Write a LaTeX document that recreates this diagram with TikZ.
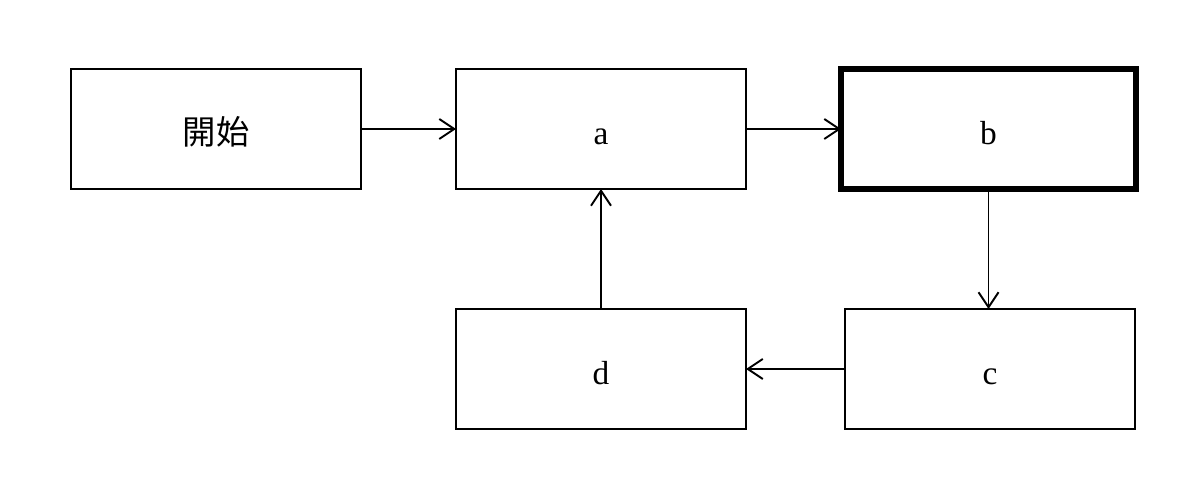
\documentclass[tikz,border=0pt]{standalone}
\usepackage{fontspec}
\setmainfont{Liberation Serif}
\newfontfamily\cjk{Noto Sans CJK TC}
\usetikzlibrary{positioning,arrows.meta}

\tikzstyle{box} = [rectangle, draw, line width=1.1pt, minimum width=5.8cm, minimum height=2.4cm, inner sep=0pt, outer sep=0pt, text height=18pt, text depth=0pt, font=\fontsize{19}{23}\selectfont]
\tikzstyle{flow} = [-{Straight Barb[length=0.3cm,width=0.4cm,line width=1.1pt]}, line width=1.1pt]

\begin{document}
\begin{tikzpicture}
\useasboundingbox (0,0) rectangle (24,10);
\node [box] (start) at (4.32,7.42) {\cjk 開始};
\node [box, right=1.9cm of start] (a) {a};
\node [box, right=1.9cm of a, minimum width=5.9cm, line width=3.4pt] (b) {b};
\node [box, below=2.4cm of b, xshift=0.03cm] (c) {c};
\node [box, below=2.4cm of a] (d) {d};
\draw [flow] (start) -- (a);
\draw [flow] (a) -- (b);
\draw [flow] (b) -- (b |- c.north);
\draw [flow] (c) -- (d);
\draw [flow] (d) -- (a);
\end{tikzpicture}
\end{document}
